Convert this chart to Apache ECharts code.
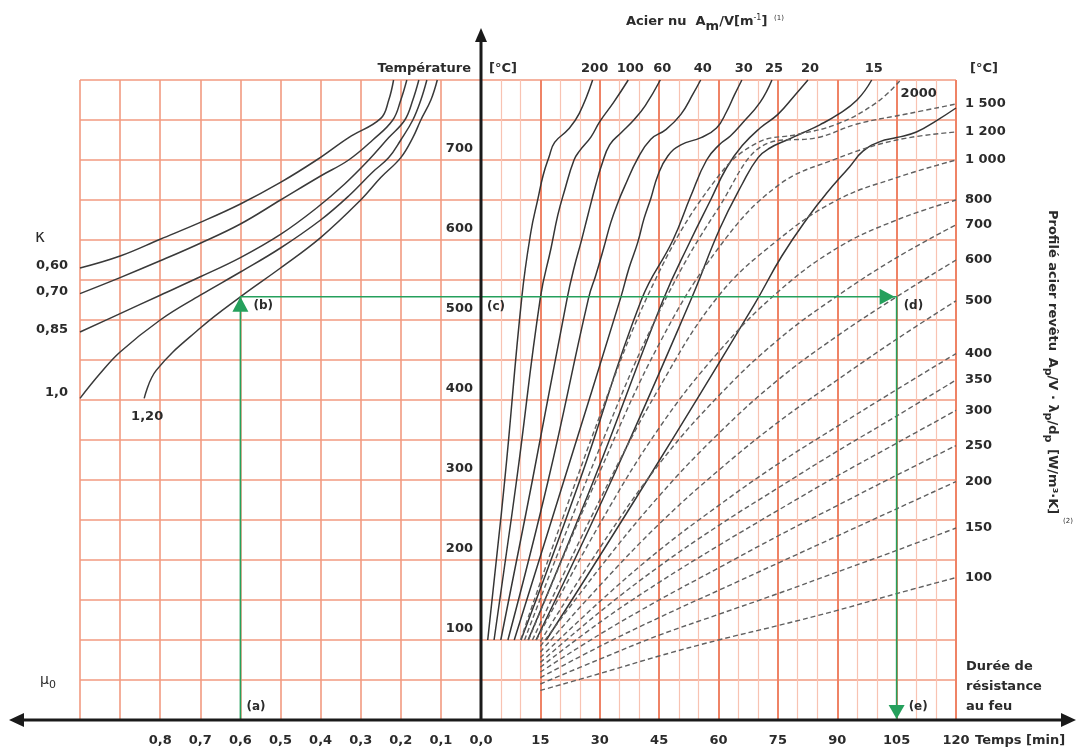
<!DOCTYPE html>
<html>
<head>
<meta charset="utf-8">
<script src="https://cdn.jsdelivr.net/npm/echarts@6/dist/echarts.min.js"></script>
<style>
  html, body { margin: 0; padding: 0; background: #fff; }
  #main { width: 1081px; height: 749px; }
</style>
</head>
<body>
<div id="main"></div>
<script>
// ---- left quadrant : mu0 -> temperature, one curve per kappa ----
var kappaNames = ['0,60', '0,70', '0,85', '1,0', '1,20'];
var kappa060 = [[1.0,565],[0.9,580],[0.8,601],[0.7,622],[0.6,645],[0.5,672],[0.41,700],[0.33,728],[0.25,752],[0.23,775],[0.218,800]];
var kappa070 = [[1.0,533],[0.9,553],[0.8,574],[0.7,596],[0.6,620],[0.5,650],[0.4,680],[0.33,700],[0.27,725],[0.22,750],[0.2,775],[0.185,800]];
var kappa085 = [[1.0,485],[0.9,508],[0.8,531],[0.7,554],[0.6,578],[0.5,607],[0.41,640],[0.34,670],[0.28,700],[0.23,728],[0.19,750],[0.17,775],[0.155,800]];
var kappa100 = [[1.0,402],[0.95,433],[0.9,460],[0.8,500],[0.7,531],[0.6,560],[0.5,590],[0.4,625],[0.33,655],[0.27,685],[0.23,703],[0.2,725],[0.17,750],[0.15,775],[0.135,800]];
var kappa120 = [[0.84,402],[0.81,437],[0.7,490],[0.6,529],[0.5,565],[0.4,603],[0.3,650],[0.25,678],[0.2,703],[0.17,728],[0.15,750],[0.125,775],[0.109,800]];

// ---- right quadrant : bare steel (Acier nu, Am/V) [time min, temp C] ----
var bareNames = ['200', '100', '60', '40', '30', '25', '20', '15'];
var bare200 = [[1.7,100],[6,300],[10.3,528],[12.6,610],[14.4,652],[15.7,681],[17.2,704],[18.6,722],[22,738],[24.8,758],[28.2,800]];
var bare100 = [[3.3,100],[9,300],[15,528],[17.7,590],[19.4,631],[21,660],[23.5,700],[25,712],[27.8,729],[30,748],[33.5,772],[37.2,800]];
var bare60 = [[5,100],[13,300],[21.8,528],[23.5,565],[25.3,598],[27,631],[29,669],[30.5,694],[32.5,719],[35.4,734],[38.6,750],[41.5,768],[45.3,800]];
var bare40 = [[6.8,100],[17,300],[27.2,528],[29,556],[31,590],[32.8,622],[34.6,647],[36.3,667],[39.6,702],[42.9,726],[46.7,738],[50.5,757],[53.5,782],[55.5,800]];
var bare30 = [[8.4,100],[21,300],[35.3,528],[37.4,565],[39.6,597],[41.2,627],[42.9,652],[44.7,681],[47.2,705],[50.5,719],[55.6,728],[59.5,740],[62,760],[64,781],[65.9,800]];
var bare25 = [[10.1,100],[25,300],[40.5,525],[48.5,600],[53,655],[57,700],[60.4,720],[63,730],[66,746],[70.5,772],[73.5,800]];
var bare20 = [[11.9,100],[28.5,300],[46,525],[53,600],[58,650],[62,690],[66,718],[70.5,740],[75,757],[79.3,781],[82.6,800]];
var bare15 = [[13.9,100],[33,300],[53,525],[60.4,615],[66,670],[70,703],[73,715],[77.3,725],[81.3,734],[85.6,744],[89.9,756],[95,775],[98.7,800]];
var bare10 = [[16.5,100],[42,300],[69,519],[76,580],[83,631],[87.4,659],[93.2,692],[96.5,711],[100.8,723],[105,728],[110,735],[115,749],[120,765]];

// ---- right quadrant : coated steel (Profilé acier revêtu) ----
var coatNames = ['2000', '1 500', '1 200', '1 000', '800', '700', '600', '500', '400', '350', '300', '250', '200', '150', '100'];
var coat2000 = [[10,100],[30,380],[45,560],[60,680],[70,722],[80,732],[90,745],[100,772],[106,800]];
var coat1500 = [[11,100],[30,340],[45,510],[60,640],[73,722],[85,728],[95,745],[108,758],[120,770]];
var coat1200 = [[12,100],[30,310],[45,470],[60,590],[75,668],[90,702],[105,725],[120,735]];
var coat1000 = [[13,100],[30,275],[45,415],[60,530],[75,600],[90,650],[105,678],[120,700]];
var coat800 = [[14,100],[30,245],[45,365],[60,460],[75,535],[90,590],[105,625],[120,650]];
var coat700 = [[15,98],[30,215],[45,320],[60,405],[75,475],[90,530],[105,578],[120,619]];
var coat600 = [[15,92],[30,190],[45,280],[60,358],[75,425],[90,480],[105,529],[120,575]];
var coat500 = [[15,85],[30,168],[45,245],[60,312],[75,372],[90,425],[105,476],[120,524]];
var coat400 = [[15,78],[30,148],[45,212],[60,268],[75,320],[90,367],[105,413],[120,458]];
var coat350 = [[15,72],[30,135],[45,192],[60,243],[75,290],[90,336],[105,380],[120,425]];
var coat300 = [[15,66],[30,122],[45,172],[60,218],[75,262],[90,305],[105,346],[120,387]];
var coat250 = [[15,60],[30,107],[45,150],[60,190],[75,230],[90,268],[105,306],[120,343]];
var coat200 = [[15,53],[30,92],[45,128],[60,162],[75,196],[90,230],[105,264],[120,298]];
var coat150 = [[15,45],[30,76],[45,106],[60,132],[75,158],[90,185],[105,212],[120,240]];
var coat100 = [[15,37],[30,58],[45,80],[60,100],[75,118],[90,137],[105,158],[120,178]];

// reading example (a) -> (e)
var guideMu = 0.6;
var guideTemp = 529;
var guideTime = 105;

var kappaData = [kappa060, kappa070, kappa085, kappa100, kappa120];
var bareData = [bare200, bare100, bare60, bare40, bare30, bare25, bare20, bare15];
var coatData = [coat2000, coat1500, coat1200, coat1000, coat800, coat700, coat600, coat500, coat400, coat350, coat300, coat250, coat200, coat150, coat100];

var font = "'DejaVu Sans', sans-serif";
var textColor = '#2b2b2b';
var gridMajor = '#ef8366';
var gridMid = '#f29a80';
var gridMinor = '#f8c3b2';

var series = [];
kappaData.forEach(function (d, i) {
	series.push({
		name: 'k' + kappaNames[i], type: 'line', xAxisIndex: 0, yAxisIndex: 0,
		data: d, smooth: 0.4, showSymbol: false, silent: true,
		lineStyle: { color: '#3a3a3a', width: 1.5 }
	});
});
bareData.forEach(function (d, i) {
	series.push({
		name: 'b' + bareNames[i], type: 'line', xAxisIndex: 1, yAxisIndex: 1,
		data: d, smooth: 0.45, showSymbol: false, silent: true,
		lineStyle: { color: '#353535', width: 1.5 }
	});
});
series.push({
	name: 'b10', type: 'line', xAxisIndex: 1, yAxisIndex: 1,
	data: bare10, smooth: 0.45, showSymbol: false, silent: true,
	lineStyle: { color: '#353535', width: 1.5 }
});
coatData.forEach(function (d, i) {
	series.push({
		name: coatNames[i], type: 'line', xAxisIndex: 1, yAxisIndex: 1,
		data: d, smooth: 0.4, showSymbol: false, silent: true,
		lineStyle: { color: '#606060', width: 1.4, type: [5, 3] },
		endLabel: {
			show: true, formatter: '{a}', distance: 9,
			offset: i === 0 ? [-9, 14] : [0, 0],
			color: textColor, fontFamily: font, fontWeight: 'bold', fontSize: 13
		}
	});
});
// green reading path
series.push({
	type: 'line', xAxisIndex: 0, yAxisIndex: 0, silent: true, showSymbol: false, z: 5,
	data: [[guideMu, 0], [guideMu, guideTemp], [0, guideTemp]],
	lineStyle: { color: '#25a05c', width: 1.6 }
});
series.push({
	type: 'line', xAxisIndex: 1, yAxisIndex: 1, silent: true, showSymbol: false, z: 5,
	data: [[0, guideTemp], [guideTime, guideTemp], [guideTime, 0]],
	lineStyle: { color: '#25a05c', width: 1.6 }
});

var labelStyle = { color: textColor, fontFamily: font, fontWeight: 'bold', fontSize: 13 };

var option = {
	animation: false,
	backgroundColor: '#ffffff',
	grid: [
		{ left: 80, right: 600, top: 80, bottom: 29 },
		{ left: 481, right: 125, top: 80, bottom: 29 }
	],
	xAxis: [{
		gridIndex: 0, type: 'value', min: 0, max: 1, interval: 0.1, inverse: true,
		axisLine: { show: false }, axisTick: { show: false },
		axisLabel: Object.assign({
			margin: 14, showMinLabel: true,
			formatter: function (v) { return v <= 0.8001 ? v.toFixed(1).replace('.', ',') : ''; }
		}, labelStyle),
		splitLine: { show: true, lineStyle: { color: gridMid, width: 1.6 } }
	}, {
		gridIndex: 1, type: 'value', min: 0, max: 120, interval: 15,
		axisLine: { show: false }, axisTick: { show: false },
		axisLabel: Object.assign({
			margin: 14, showMaxLabel: true,
			formatter: function (v) { return v === 0 ? '' : String(v); }
		}, labelStyle),
		splitLine: { show: true, lineStyle: { color: gridMajor, width: 2 } },
		minorTick: { show: false, splitNumber: 3 },
		minorSplitLine: { show: true, lineStyle: { color: gridMinor, width: 1.2 } }
	}],
	yAxis: [{
		gridIndex: 0, type: 'value', min: 0, max: 800, interval: 50,
		axisLine: { show: false }, axisTick: { show: false }, axisLabel: { show: false },
		splitLine: { show: true, lineStyle: { color: gridMid, width: 1.6 } }
	}, {
		gridIndex: 1, type: 'value', min: 0, max: 800, interval: 50,
		axisLine: { show: false }, axisTick: { show: false },
		axisLabel: Object.assign({
			margin: 8, verticalAlign: 'bottom', padding: [0, 0, 5, 0],
			formatter: function (v) { return (v % 100 === 0 && v > 0 && v < 800) ? String(v) : ''; }
		}, labelStyle),
		splitLine: { show: true, lineStyle: { color: gridMid, width: 1.6 } }
	}],
	series: series
};

var chart = echarts.init(document.getElementById('main'));
chart.setOption(option);

// ---- decorations placed from the axes' own scales ----
var o = chart.convertToPixel({ gridIndex: 1 }, [0, 0]);
var ox = o[0], oy = o[1];
var pB = chart.convertToPixel({ gridIndex: 0 }, [guideMu, guideTemp]);
var pA = chart.convertToPixel({ gridIndex: 0 }, [guideMu, 0]);
var pD = chart.convertToPixel({ gridIndex: 1 }, [guideTime, guideTemp]);
var pE = chart.convertToPixel({ gridIndex: 1 }, [guideTime, 0]);
var green = '#25a05c';
var black = '#1a1a1a';

function txt(x, y, text, extra) {
	return {
		type: 'text', x: x, y: y, z: 20, silent: true,
		style: Object.assign({
			text: text, fill: textColor, font: 'bold 13px ' + font,
			align: 'left', verticalAlign: 'middle'
		}, extra || {})
	};
}
function tri(points, color) {
	return { type: 'polygon', z: 21, silent: true, shape: { points: points }, style: { fill: color } };
}

var g = [];
// axes with arrows
g.push({ type: 'line', z: 19, silent: true, shape: { x1: 16, y1: oy, x2: 1068, y2: oy }, style: { stroke: black, lineWidth: 3 } });
g.push(tri([[9, oy], [24, oy - 7], [24, oy + 7]], black));
g.push(tri([[1076, oy], [1061, oy - 7], [1061, oy + 7]], black));
g.push({ type: 'line', z: 19, silent: true, shape: { x1: ox, y1: oy, x2: ox, y2: 36 }, style: { stroke: black, lineWidth: 3 } });
g.push(tri([[ox, 28], [ox - 6, 42], [ox + 6, 42]], black));

// green arrow heads
g.push(tri([[pB[0], pB[1]], [pB[0] - 8, pB[1] + 15], [pB[0] + 8, pB[1] + 15]], green));
g.push(tri([[pD[0] - 2, pD[1]], [pD[0] - 17, pD[1] - 8], [pD[0] - 17, pD[1] + 8]], green));
g.push(tri([[pE[0], pE[1] - 1], [pE[0] - 8, pE[1] - 15], [pE[0] + 8, pE[1] - 15]], green));
g.push(txt(pA[0] + 6, pA[1] - 13, '(a)', { font: 'bold 12px ' + font }));
g.push(txt(pB[0] + 13, pB[1] + 9, '(b)', { font: 'bold 12px ' + font }));
g.push(txt(ox + 6, pB[1] + 10, '(c)', { font: 'bold 12px ' + font }));
g.push(txt(pD[0] + 7, pD[1] + 9, '(d)', { font: 'bold 12px ' + font }));
g.push(txt(pE[0] + 12, pE[1] - 13, '(e)', { font: 'bold 12px ' + font }));

// kappa labels at curve starts
kappaData.forEach(function (d, i) {
	var p = chart.convertToPixel({ gridIndex: 0 }, d[0]);
	if (i === 4) {
		g.push(txt(p[0] + 3, p[1] + 18, kappaNames[i], { align: 'center' }));
	} else {
		g.push(txt(p[0] - 12, p[1] - (i === 3 ? 6 : 2), kappaNames[i], { align: 'right' }));
	}
});
g.push(txt(40, 238, 'κ', { font: '17px ' + font, align: 'center' }));
g.push({
	type: 'text', x: 40, y: 680, z: 20, silent: true,
	style: {
		text: '{m|μ}{s|0}', align: 'left', verticalAlign: 'middle',
		rich: { m: { fontFamily: font, fontSize: 14, fill: textColor }, s: { fontFamily: font, fontSize: 11, fill: textColor, padding: [10, 0, 0, 0] } }
	}
});

// bare steel labels above curve tops
bareData.forEach(function (d, i) {
	var p = chart.convertToPixel({ gridIndex: 1 }, d[d.length - 1]);
	g.push(txt(p[0] + 2, 69, bareNames[i], { align: 'center' }));
});

// headings
g.push(txt(ox - 10, 69, 'Température', { align: 'right' }));
g.push(txt(ox + 8, 69, '[°C]'));
g.push(txt(970, 69, '[°C]'));
g.push({
	type: 'text', x: 626, y: 22, z: 20, silent: true,
	style: {
		text: '{b|Acier nu  A}{sub|m}{b|/V[m}{sup|-1}{b|]}  {n|(1)}', align: 'left', verticalAlign: 'middle',
		rich: {
			b: { fontFamily: font, fontWeight: 'bold', fontSize: 13, fill: textColor },
			sub: { fontFamily: font, fontWeight: 'bold', fontSize: 13, fill: textColor, padding: [10, 0, 0, 0] },
			sup: { fontFamily: font, fontSize: 8, fill: textColor, padding: [0, 0, 8, 0] },
			n: { fontFamily: font, fontSize: 7, fill: textColor, padding: [0, 0, 8, 0] }
		}
	}
});
g.push(txt(975, 741, 'Temps [min]'));
g.push(txt(966, 687, 'Durée de\nrésistance\nau feu', { lineHeight: 20 }));
g.push({
	type: 'text', x: 1052, y: 210, rotation: -Math.PI / 2, z: 20, silent: true,
	style: {
		text: '{b|Profilé acier revêtu}  {b|A}{s|p}{b|/V · λ}{s|p}{b|/d}{s|p}  {b|[W/m³·K]}',
		align: 'left', verticalAlign: 'middle',
		rich: {
			b: { fontFamily: font, fontWeight: 'bold', fontSize: 13, fill: textColor },
			s: { fontFamily: font, fontWeight: 'bold', fontSize: 11, fill: textColor, padding: [8, 0, 0, 0] }
		}
	}
});
g.push(txt(1068, 521, '(2)', { font: '7px ' + font, align: 'center' }));

chart.setOption({ graphic: { elements: g } });
</script>
</body>
</html>
